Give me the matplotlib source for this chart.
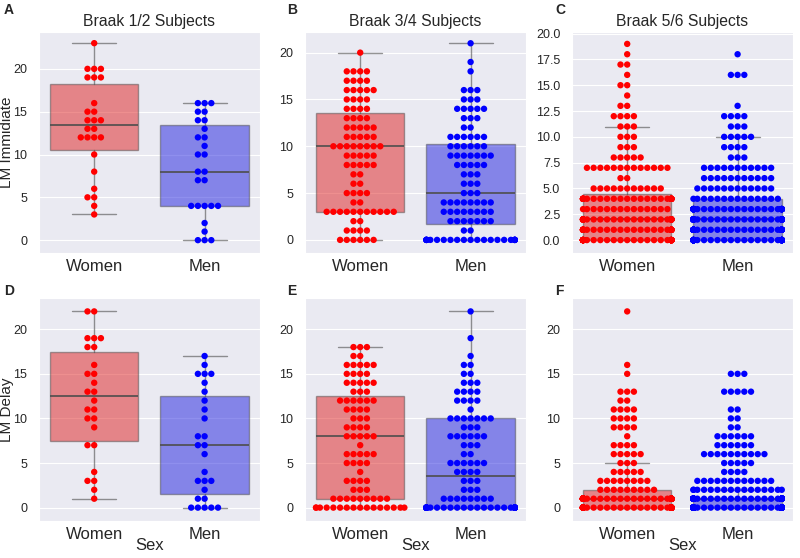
import warnings
import matplotlib
matplotlib.use('Agg')
import matplotlib.pyplot as plt
import numpy as np
import pandas as pd
import seaborn as sns

warnings.filterwarnings('ignore')

# --- data: score value and number of subjects with that score ---
# A: LM Immidiate, Braak 1/2
a_women_vals = [3, 4, 5, 6, 8, 10, 12, 13, 14, 15, 16, 19, 20, 23]
a_women_counts = [1, 1, 2, 1, 1, 1, 4, 2, 3, 2, 1, 3, 3, 1]
a_men_vals = [0, 1, 2, 4, 7, 8, 10, 11, 12, 13, 14, 15, 16]
a_men_counts = [3, 1, 1, 5, 2, 2, 2, 1, 2, 1, 2, 2, 3]

# B: LM Immidiate, Braak 3/4
b_women_vals = [0, 1, 2, 3, 4, 5, 6, 7, 8, 9, 10, 11, 12, 13, 14, 15, 16, 17, 18, 20]
b_women_counts = [6, 4, 2, 11, 2, 4, 2, 2, 5, 5, 8, 5, 5, 4, 4, 4, 5, 4, 4, 1]
b_men_vals = [0, 1, 2, 3, 4, 5, 6, 7, 8, 9, 10, 11, 12, 13, 14, 15, 16, 18, 19, 21]
b_men_counts = [23, 2, 7, 8, 8, 3, 3, 3, 5, 7, 6, 6, 2, 3, 5, 3, 3, 1, 1, 1]

# C: LM Immidiate, Braak 5/6
c_women_vals = [0, 1, 2, 3, 4, 5, 6, 7, 8, 9, 10, 11, 12, 13, 14, 15, 16, 17, 18, 19]
c_women_counts = [56, 31, 31, 14, 29, 11, 2, 13, 5, 3, 3, 3, 4, 2, 1, 2, 1, 2, 1, 1]
c_men_vals = [0, 1, 2, 3, 4, 5, 6, 7, 8, 9, 10, 11, 12, 13, 16, 18]
c_men_counts = [75, 45, 44, 44, 14, 12, 11, 11, 3, 4, 5, 3, 4, 1, 3, 1]

# D: LM Delay, Braak 1/2
d_women_vals = [1, 2, 3, 4, 7, 9, 10, 11, 12, 13, 14, 15, 16, 18, 19, 22]
d_women_counts = [1, 1, 2, 1, 2, 1, 2, 2, 1, 2, 1, 2, 1, 2, 3, 2]
d_men_vals = [0, 1, 2, 3, 4, 6, 7, 8, 10, 11, 12, 13, 14, 15, 16, 17]
d_men_counts = [5, 2, 1, 3, 1, 1, 2, 2, 1, 1, 1, 1, 1, 3, 1, 1]

# E: LM Delay, Braak 3/4
e_women_vals = [0, 1, 2, 3, 4, 5, 6, 7, 8, 9, 10, 11, 12, 13, 14, 15, 16, 17, 18]
e_women_counts = [16, 9, 3, 4, 1, 4, 5, 1, 5, 4, 3, 4, 6, 3, 5, 4, 5, 2, 3]
e_men_vals = [0, 1, 2, 3, 4, 5, 6, 7, 8, 9, 10, 11, 12, 13, 14, 15, 16, 17, 19, 22]
e_men_counts = [36, 8, 3, 3, 4, 6, 2, 3, 6, 3, 7, 1, 4, 4, 3, 2, 2, 1, 1, 1]

# F: LM Delay, Braak 5/6
f_women_vals = [0, 1, 2, 3, 4, 5, 6, 7, 8, 9, 10, 11, 12, 13, 15, 16, 22]
f_women_counts = [80, 80, 9, 8, 5, 3, 5, 4, 1, 4, 4, 4, 2, 3, 1, 1, 1]
f_men_vals = [0, 1, 2, 3, 4, 5, 6, 7, 8, 9, 10, 11, 13, 15]
f_men_counts = [112, 112, 16, 12, 4, 5, 10, 6, 6, 2, 2, 2, 5, 3]

sex_order = ['Women', 'Men']
titles = ['Braak 1/2 Subjects', 'Braak 3/4 Subjects', 'Braak 5/6 Subjects']
row_labels = ['LM Immidiate', 'LM Delay']
panel_letters = ['A', 'B', 'C', 'D', 'E', 'F']

panels = [
    (a_women_vals, a_women_counts, a_men_vals, a_men_counts),
    (b_women_vals, b_women_counts, b_men_vals, b_men_counts),
    (c_women_vals, c_women_counts, c_men_vals, c_men_counts),
    (d_women_vals, d_women_counts, d_men_vals, d_men_counts),
    (e_women_vals, e_women_counts, e_men_vals, e_men_counts),
    (f_women_vals, f_women_counts, f_men_vals, f_men_counts),
]

sns.set_style('darkgrid')
plt.rcParams['font.family'] = ['Liberation Sans', 'DejaVu Sans']

swarm_colors = {'Women': '#ff0000', 'Men': '#0000ff'}
box_colors = [(0.875, 0.125, 0.125), (0.125, 0.125, 0.875)]

fig = plt.figure(figsize=(8, 5.58), dpi=100)

lefts = [0.04875, 0.38125, 0.715]
bottoms = [0.5466, 0.0663]
heights = [0.396, 0.3996]
ylims = [(-1.5, 24.3), (-1.4, 22.2), (-1.25, 20.15),
         (-1.5, 23.5), (-1.5, 23.5), (-1.5, 23.5)]
letter_pos = [(4, 10), (287, 10), (555, 10), (4, 291), (287, 291), (555, 291)]

for i, (wv, wc, mv, mc) in enumerate(panels):
    row, col = divmod(i, 3)
    ax = fig.add_axes([lefts[col], bottoms[row], 0.276, heights[row]])

    women = np.repeat(wv, wc)
    men = np.repeat(mv, mc)
    df = pd.DataFrame({
        'Sex': ['Women'] * len(women) + ['Men'] * len(men),
        'score': np.concatenate([women, men]).astype(float),
    })

    bp = ax.boxplot([women, men], positions=[0, 1], widths=0.8,
                    patch_artist=True, showfliers=False,
                    whiskerprops=dict(color='0.3', lw=1.0),
                    capprops=dict(color='0.3', lw=1.0),
                    medianprops=dict(color='0.3', lw=1.2))
    for patch, c in zip(bp['boxes'], box_colors):
        patch.set_facecolor(c)
        patch.set_edgecolor('0.3')
        patch.set_alpha(0.5)
        patch.set_zorder(1)
    for key in ['whiskers', 'caps']:
        for ln in bp[key]:
            ln.set_alpha(0.6)

    sns.swarmplot(data=df, x='Sex', y='score', hue='Sex', order=sex_order,
                  palette=swarm_colors, size=4.6, legend=False, ax=ax)
    # dots sit above the box lines
    for coll in ax.collections:
        coll.set_zorder(3)

    ax.set_xticks([0, 1])
    ax.set_xticklabels(sex_order)
    ax.set_xlim(-0.5, 1.5)
    ax.set_ylim(*ylims[i])
    if col == 2 and row == 0:
        ax.set_yticks(np.arange(0, 20.1, 2.5))
    else:
        ax.set_yticks(np.arange(0, 21, 5))
    ax.tick_params(axis='x', labelsize=12, pad=0.5)
    ax.tick_params(axis='y', labelsize=9, pad=5)
    ax.xaxis.grid(False)

    if row == 0:
        ax.set_title(titles[col], fontsize=11.3, pad=4)
        ax.set_xlabel('')
    else:
        ax.set_xlabel('Sex', fontsize=12)
        ax.xaxis.set_label_coords(0.5, -0.075)
    if col == 0:
        ax.set_ylabel(row_labels[row], fontsize=11)
        ax.yaxis.set_label_coords(-0.115, 0.5)
    else:
        ax.set_ylabel('')

    lx, ly = letter_pos[i]
    fig.text(lx / 800, 1 - ly / 558, panel_letters[i], fontsize=10,
             fontweight='bold', ha='left', va='center')

fig.savefig('out.png', dpi=100)
